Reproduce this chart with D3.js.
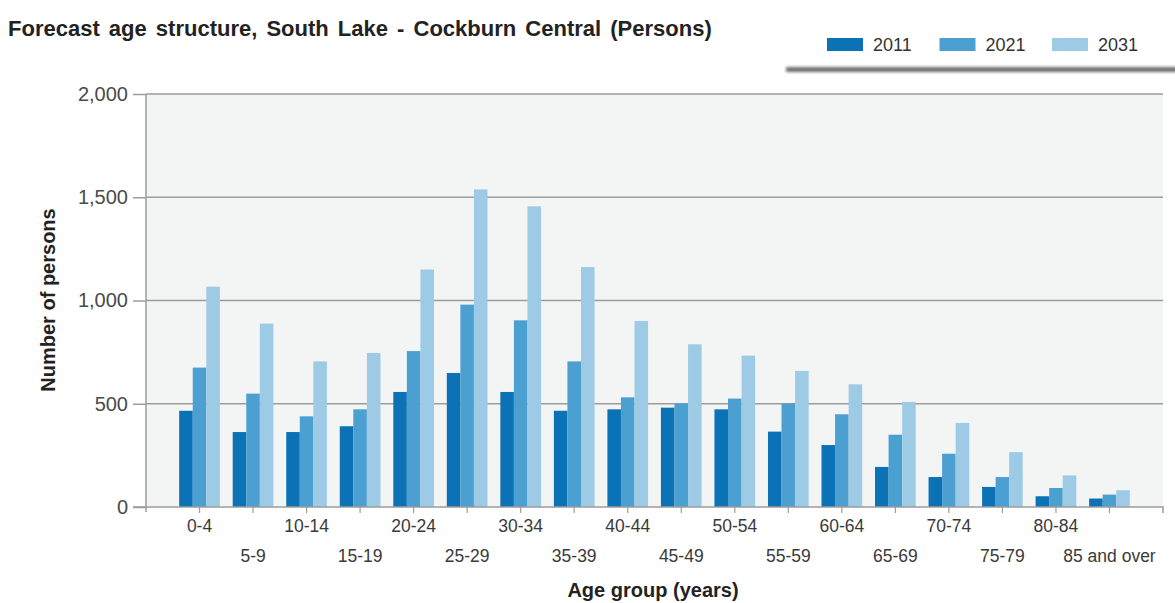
<!DOCTYPE html>
<html>
<head>
<meta charset="utf-8">
<script src="https://cdn.jsdelivr.net/npm/d3@7"></script>
<style>
  body { margin: 0; background: #fff; }
  svg { display: block; font-family: "Liberation Sans", Arial, sans-serif; }
</style>
</head>
<body>
<svg id="chart" width="1175" height="603"></svg>
<script>
// Forecast persons by five-year age group
const ageGroups = ["0-4", "5-9", "10-14", "15-19", "20-24", "25-29", "30-34", "35-39", "40-44",
  "45-49", "50-54", "55-59", "60-64", "65-69", "70-74", "75-79", "80-84", "85 and over"];
const years = ["2011", "2021", "2031"];
const persons2011 = [466, 363, 363, 391, 557, 649, 557, 466, 473, 481, 473, 365, 300, 194, 145, 97, 52, 41];
const persons2021 = [675, 549, 439, 473, 755, 980, 904, 705, 531, 501, 525, 501, 449, 350, 258, 145, 92, 60];
const persons2031 = [1067, 888, 705, 746, 1150, 1538, 1456, 1162, 901, 788, 733, 659, 594, 509, 407, 266, 153, 81];
const yTicks = [0, 500, 1000, 1500, 2000];
const yearColors = ["#0a72b5", "#4b9fd1", "#9dcbe5"];

const seriesByYear = { "2011": persons2011, "2021": persons2021, "2031": persons2031 };
const rows = ageGroups.map((g, i) => ({ group: g, values: years.map(yr => ({ year: yr, value: seriesByYear[yr][i] })) }));

const svg = d3.select("#chart");
const plot = { left: 146, right: 1163, top: 94, bottom: 507 };

const x = d3.scaleBand().domain(ageGroups).range([plot.left, plot.right]).paddingInner(0.24).paddingOuter(0.62);
const xs = d3.scaleBand().domain(years).range([0, x.bandwidth()]);
const y = d3.scaleLinear().domain([0, 2000]).range([plot.bottom, plot.top]);
const color = d3.scaleOrdinal().domain(years).range(yearColors);

// plot background
svg.append("rect")
  .attr("x", plot.left).attr("y", plot.top)
  .attr("width", plot.right - plot.left).attr("height", plot.bottom - plot.top)
  .attr("fill", "#f3f4f4");

// horizontal gridlines
svg.append("g").selectAll("line").data(yTicks.filter(d => d > 0)).join("line")
  .attr("x1", plot.left).attr("x2", plot.right)
  .attr("y1", d => y(d)).attr("y2", d => y(d))
  .attr("stroke", "#9c9c9c").attr("stroke-width", 1.5);

// bars
svg.append("g").selectAll("g").data(rows).join("g")
  .attr("transform", d => `translate(${x(d.group)},0)`)
  .selectAll("rect").data(d => d.values).join("rect")
  .attr("x", d => xs(d.year))
  .attr("width", xs.bandwidth())
  .attr("y", d => y(d.value))
  .attr("height", d => y(0) - y(d.value))
  .attr("fill", d => color(d.year));

// y axis
const yAxis = svg.append("g")
  .attr("transform", `translate(${plot.left},0)`)
  .call(d3.axisLeft(y).tickValues(yTicks).tickSize(13).tickSizeOuter(0).tickPadding(5).tickFormat(d3.format(",")));
yAxis.select(".domain").attr("stroke", "#9c9c9c").attr("stroke-width", 1.5)
  .attr("d", `M0,${plot.top}V${plot.bottom + 5}`);
yAxis.selectAll(".tick line").attr("stroke", "#9c9c9c").attr("stroke-width", 1.5);
yAxis.selectAll(".tick text").attr("font-size", 20).attr("fill", "#4a4a4a");

// x axis with labels alternating on two rows
const xAxis = svg.append("g")
  .attr("transform", `translate(0,${plot.bottom})`)
  .call(d3.axisBottom(x).tickSizeInner(6).tickSizeOuter(6).tickPadding(6));
xAxis.select(".domain").attr("stroke", "#9c9c9c").attr("stroke-width", 1.5)
  .attr("d", `M${plot.left - 13},0H${plot.right}V6`);
xAxis.selectAll(".tick line").attr("stroke", "#9c9c9c").attr("stroke-width", 1.2);
xAxis.selectAll(".tick text")
  .attr("font-size", 17.5).attr("fill", "#3a3a3a")
  .attr("y", (d, i) => i % 2 === 0 ? 13 : 43);

// axis titles
svg.append("text")
  .attr("transform", `translate(55,300) rotate(-90)`)
  .attr("text-anchor", "middle")
  .attr("font-size", 20).attr("font-weight", "bold").attr("fill", "#222")
  .text("Number of persons");

svg.append("text")
  .attr("x", 653).attr("y", 597)
  .attr("text-anchor", "middle")
  .attr("font-size", 20).attr("font-weight", "bold").attr("fill", "#222")
  .text("Age group (years)");

// chart title
svg.append("text")
  .attr("x", 8).attr("y", 36)
  .attr("font-size", 22).attr("font-weight", "bold").attr("fill", "#222")
  .attr("word-spacing", 3)
  .text("Forecast age structure, South Lake - Cockburn Central (Persons)");

// legend box shadow
const defs = svg.append("defs");
defs.append("filter").attr("id", "legendShadow").attr("x", "-5%").attr("y", "-200%").attr("width", "110%").attr("height", "500%")
  .append("feGaussianBlur").attr("stdDeviation", 1.6);
svg.append("rect")
  .attr("x", 786).attr("y", 67).attr("width", 400).attr("height", 5)
  .attr("fill", "#6f6f6f").attr("filter", "url(#legendShadow)");

// legend
const legend = svg.append("g").selectAll("g").data(years).join("g")
  .attr("transform", (d, i) => `translate(${827 + i * 112.5},38)`);
legend.append("rect").attr("width", 36).attr("height", 13).attr("fill", d => color(d));
legend.append("text").attr("x", 46).attr("y", 13)
  .attr("font-size", 18).attr("fill", "#333").text(d => d);
</script>
</body>
</html>
